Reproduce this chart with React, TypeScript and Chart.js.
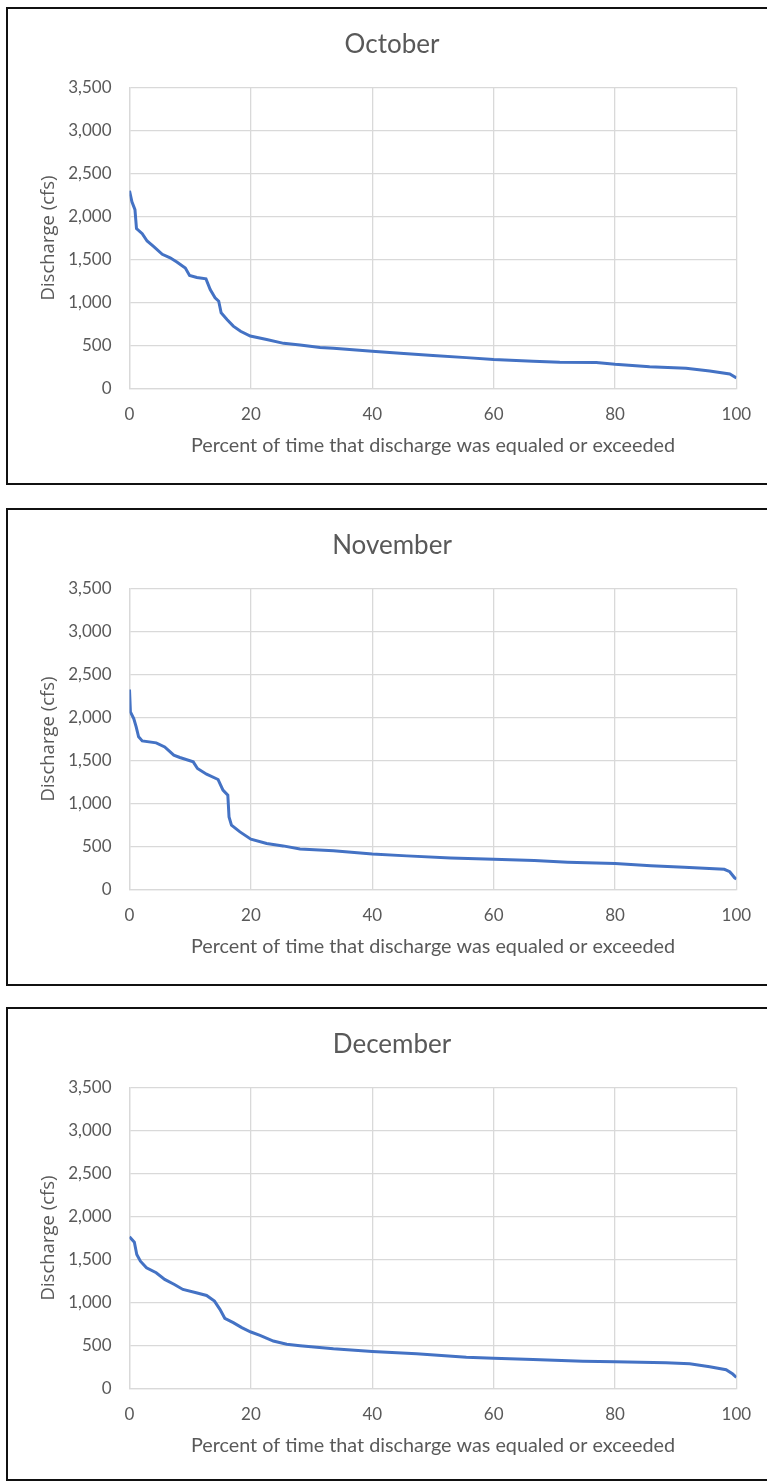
import React, { useEffect, useRef } from 'react';
import { Chart, registerables } from 'chart.js';

Chart.register(...registerables);

// ---- Data ----
const octX = [0, 0.4, 0.9, 1.15, 2.1, 2.9, 4.0, 5.4, 6.7, 7.8, 9.2, 9.9, 11.1, 12.6, 13.3, 14.1, 14.7, 15.1, 16.1, 17.1, 18.3, 19.9, 22.6, 25.4, 28.1, 31.4, 33.6, 40, 44.6, 50, 55.5, 60, 66.5, 70.9, 76.9, 80, 85.7, 91.7, 95.6, 98.9, 100];
const octY = [2300, 2170, 2080, 1860, 1800, 1715, 1650, 1560, 1520, 1470, 1400, 1315, 1290, 1275, 1150, 1055, 1015, 880, 800, 725, 665, 610, 570, 525, 505, 478, 467, 434, 411, 383, 359, 336, 317, 305, 303, 282, 254, 235, 203, 168, 124];

const novX = [0, 0.15, 0.7, 1.1, 1.5, 2.1, 4.4, 5.8, 7.3, 8.3, 10.5, 11.2, 12.7, 14.6, 15.4, 16.2, 16.4, 16.8, 18.2, 20, 22.6, 25.3, 28.1, 33.6, 40, 45.7, 52.9, 60, 66.7, 72.2, 80, 85.9, 91.4, 98, 98.9, 99.7, 100];
const novY = [2326, 2065, 1988, 1891, 1775, 1728, 1705, 1658, 1562, 1535, 1484, 1407, 1341, 1279, 1155, 1097, 844, 748, 670, 585, 535, 507, 471, 450, 414, 391, 367, 352, 336, 317, 301, 277, 258, 235, 207, 136, 121];

const decX = [0, 0.8, 1.2, 1.8, 2.8, 4.4, 5.8, 7.4, 8.8, 11, 12.7, 14.0, 14.9, 15.7, 17.1, 18.5, 20, 21.5, 23.7, 25.9, 28.1, 33.6, 40, 47.3, 55.5, 60, 66.5, 74.7, 80, 88.4, 92.3, 95.6, 98.3, 99.4, 100];
const decY = [1763, 1701, 1558, 1480, 1404, 1346, 1268, 1210, 1152, 1114, 1082, 1016, 920, 816, 766, 708, 657, 618, 552, 514, 497, 461, 430, 403, 364, 352, 336, 317, 312, 300, 289, 254, 218, 168, 129];

const monthTitles = ['October', 'November', 'December'];
const xAxisTitle = 'Percent of time that discharge was equaled or exceeded';
const yAxisTitle = 'Discharge (cfs)';
const xMin = 0, xMax = 100, xStep = 20;
const yMin = 0, yMax = 3500, yStep = 500;

const TEXT = '#595959';
const GRID = '#d9d9d9';
const LINE = '#4472C4';

const W = 767;
const PANEL_H = 478;
const PAD_LEFT = 47;
const PLOT_LEFT = 129.5;

function Panel({ title, xs, ys, top, height }: { title: string; xs: number[]; ys: number[]; top: number; height: number }) {
  const ref = useRef<HTMLCanvasElement | null>(null);
  useEffect(() => {
    const canvas = ref.current;
    if (!canvas) return;
    const chart = new Chart(canvas, {
      type: 'line',
      data: {
        datasets: [
          {
            data: xs.map((x, i) => ({ x, y: ys[i] })),
            borderColor: LINE,
            borderWidth: 3,
            pointRadius: 0,
            tension: 0,
            fill: false,
          },
        ],
      },
      options: {
        animation: false,
        responsive: false,
        devicePixelRatio: 1,
        locale: 'en-US',
        layout: { padding: { left: PAD_LEFT, right: 30, top: 0, bottom: PANEL_H - 456.5 } },
        plugins: {
          legend: { display: false },
          tooltip: { enabled: false },
          title: {
            display: true,
            text: title,
            color: TEXT,
            font: { family: 'Lato', size: 26, weight: 'normal' },
            padding: { top: 21.9, bottom: 27.4 },
          },
        },
        scales: {
          x: {
            type: 'linear',
            min: xMin,
            max: xMax,
            ticks: { stepSize: xStep, color: TEXT, font: { family: 'Lato', size: 17 }, padding: 15.8, maxRotation: 0 },
            grid: { color: GRID, lineWidth: 1.3, drawTicks: false },
            border: { color: GRID, width: 1.3 },
            title: {
              display: true,
              text: xAxisTitle,
              color: TEXT,
              font: { family: 'Lato', size: 19.8 },
              padding: { top: 0, bottom: 5.6 },
            },
            afterFit: (s: any) => {
              s.height = 75;
            },
          },
          y: {
            type: 'linear',
            min: yMin,
            max: yMax,
            ticks: { stepSize: yStep, color: TEXT, font: { family: 'Lato', size: 17 }, padding: 18 },
            grid: { color: GRID, lineWidth: 1.3, drawTicks: false },
            border: { color: GRID, width: 1.3 },
            title: {
              display: true,
              text: yAxisTitle,
              color: TEXT,
              font: { family: 'Open Sans', size: 18.5 },
              padding: { top: 2 - 11.1, bottom: 0 },
            },
            afterFit: (s: any) => {
              s.width = PLOT_LEFT - PAD_LEFT;
            },
          },
        },
      },
    } as any);
    return () => chart.destroy();
  }, [title, xs, ys]);

  return (
    <>
      <div
        style={{
          position: 'absolute',
          left: 6,
          top,
          width: 775,
          height,
          border: '2px solid #111',
          boxSizing: 'border-box',
        }}
      />
      <canvas
        ref={ref}
        width={W}
        height={PANEL_H}
        style={{ position: 'absolute', left: 0, top, width: W, height: PANEL_H }}
      />
    </>
  );
}

export default function App() {
  return (
    <div
      style={{
        position: 'absolute',
        left: 0,
        top: 0,
        width: 767,
        height: 1482,
        background: '#fff',
        overflow: 'hidden',
      }}
    >
      <Panel title={monthTitles[0]} xs={octX} ys={octY} top={7} height={478} />
      <Panel title={monthTitles[1]} xs={novX} ys={novY} top={508} height={478} />
      <Panel title={monthTitles[2]} xs={decX} ys={decY} top={1007} height={474} />
    </div>
  );
}
